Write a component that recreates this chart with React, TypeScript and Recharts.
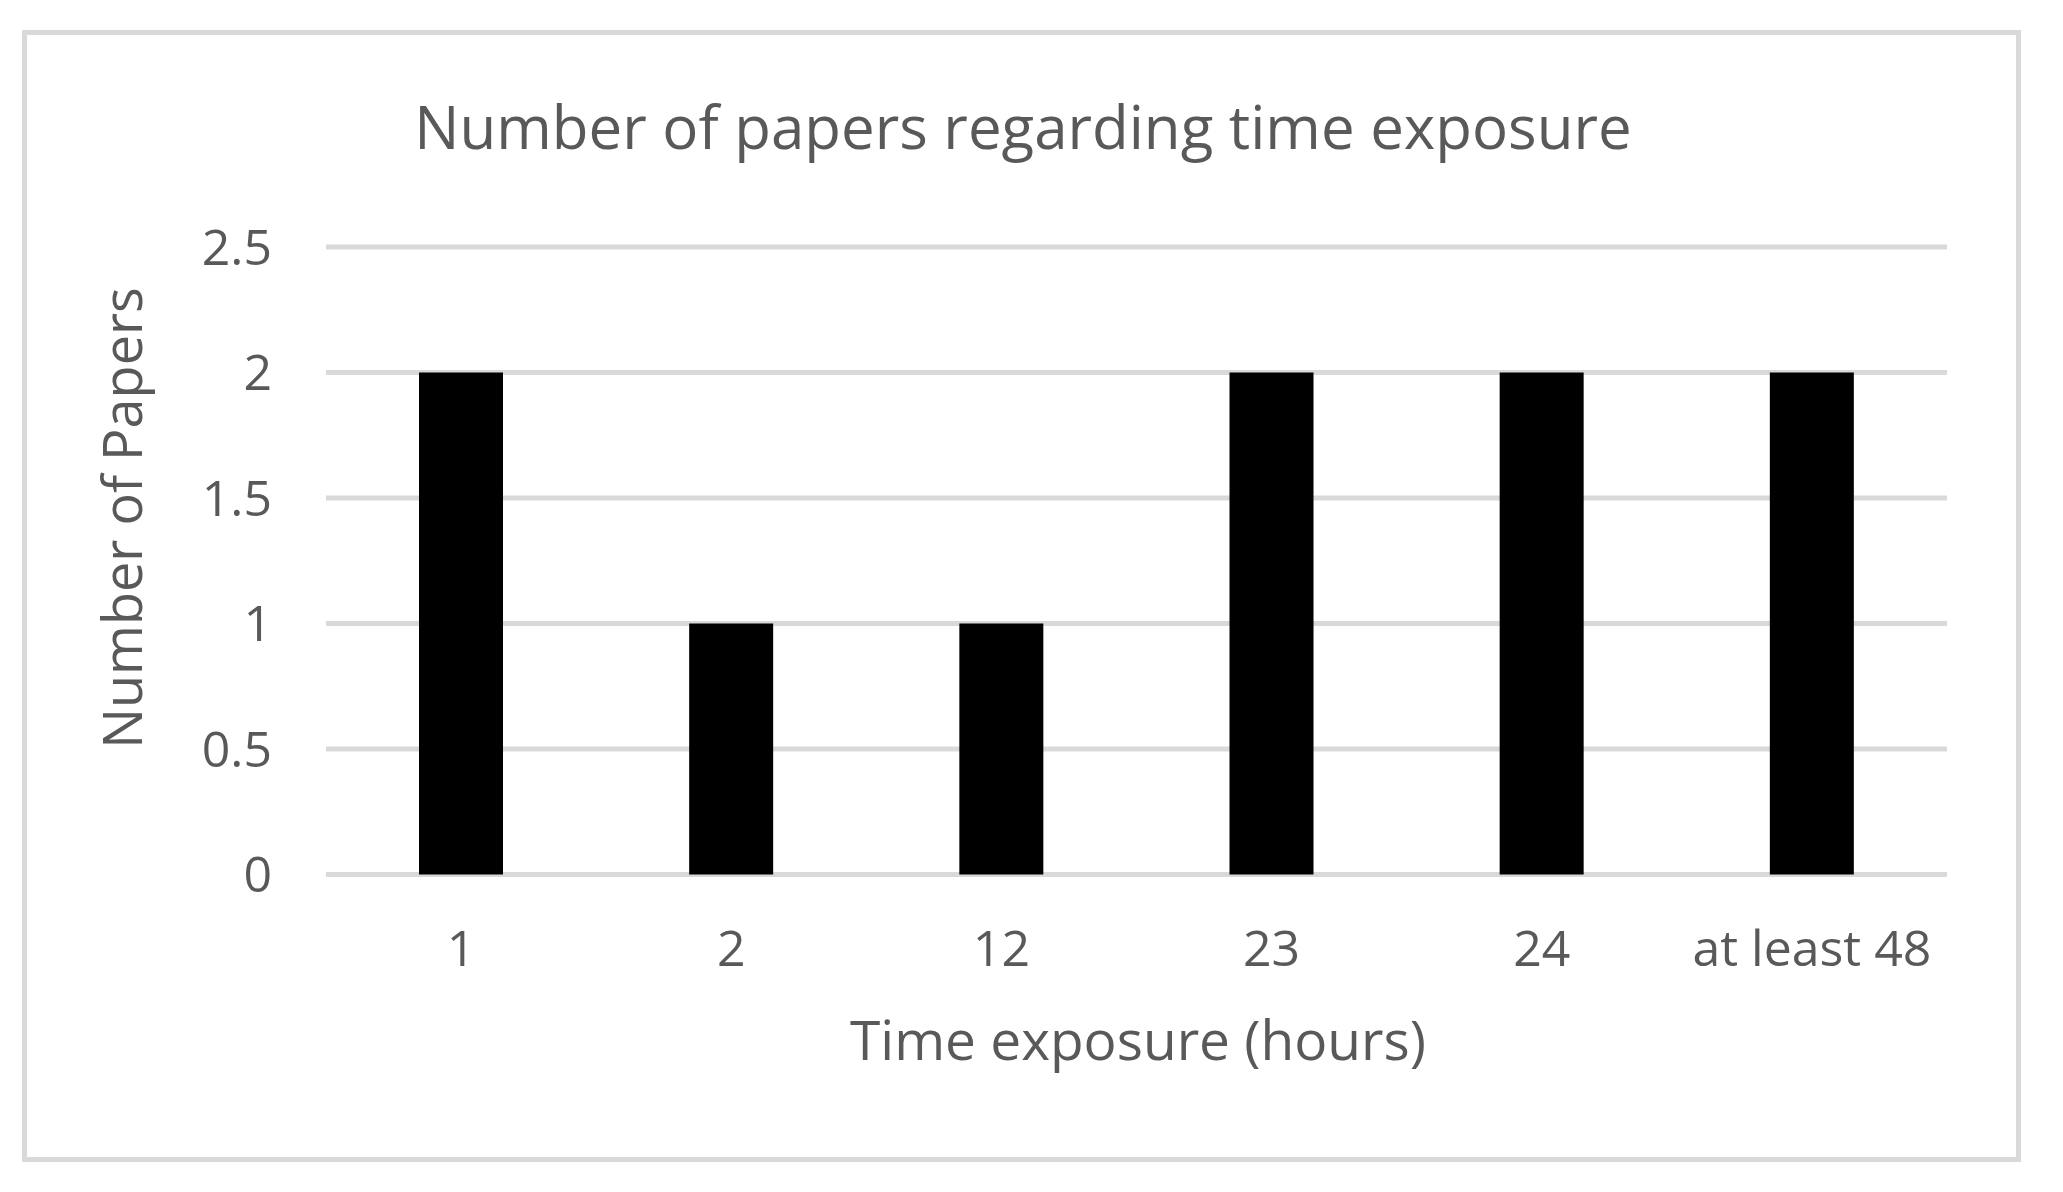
import React from "react";
import { BarChart, Bar, XAxis, YAxis, CartesianGrid } from "recharts";

const categories = ["1", "2", "12", "23", "24", "at least 48"];
const paperCounts = [2, 1, 1, 2, 2, 2];
const yTicks = [0, 0.5, 1, 1.5, 2, 2.5];

const chartTitle = "Number of papers regarding time exposure";
const xTitle = "Time exposure (hours)";
const yTitle = "Number of Papers";

const data = categories.map((c, i) => ({ category: c, papers: paperCounts[i] }));

const FONT = "'Open Sans', 'Noto Sans', sans-serif";
const TEXT = "#595959";
const GRID = "#d9d9d9";

export default function App() {
  return (
    <div
      style={{
        position: "absolute",
        left: 0,
        top: 0,
        width: 2063,
        height: 1192,
        background: "#ffffff",
        fontFamily: FONT,
      }}
    >
      <div
        style={{
          position: "absolute",
          left: 22,
          top: 30,
          width: 1999,
          height: 1132,
          border: `5px solid ${GRID}`,
          boxSizing: "border-box",
        }}
      />
      <div style={{ position: "absolute", left: 0, top: 0 }}>
        <BarChart
          width={2063}
          height={1192}
          data={data}
          margin={{ top: 247, right: 116, left: 0, bottom: 217.5 }}
        >
          <CartesianGrid vertical={false} stroke={GRID} strokeWidth={5} />
          <XAxis
            dataKey="category"
            height={100}
            axisLine={false}
            tickLine={false}
            tickSize={0}
            tickMargin={56}
            interval={0}
            tick={{ fill: TEXT, fontSize: 50, fontFamily: FONT }}
          />
          <YAxis
            width={326}
            domain={[0, 2.5]}
            ticks={yTicks}
            axisLine={false}
            tickLine={false}
            tickSize={0}
            tickMargin={54}
            tick={{ fill: TEXT, fontSize: 50, fontFamily: FONT }}
          />
          <Bar dataKey="papers" fill="#000000" barSize={84} isAnimationActive={false} />
        </BarChart>
      </div>
      <svg
        width={2063}
        height={1192}
        style={{ position: "absolute", left: 0, top: 0, pointerEvents: "none" }}
      >
        <text x={1023} y={149} textAnchor="middle" fill={TEXT} fontSize={60} fontFamily={FONT}>
          {chartTitle}
        </text>
        <text x={1138} y={1060} textAnchor="middle" fill={TEXT} fontSize={55} fontFamily={FONT}>
          {xTitle}
        </text>
        <text
          x={142}
          y={518}
          textAnchor="middle"
          fill={TEXT}
          fontSize={54}
          fontFamily={FONT}
          transform="rotate(-90 142 518)"
        >
          {yTitle}
        </text>
      </svg>
    </div>
  );
}
